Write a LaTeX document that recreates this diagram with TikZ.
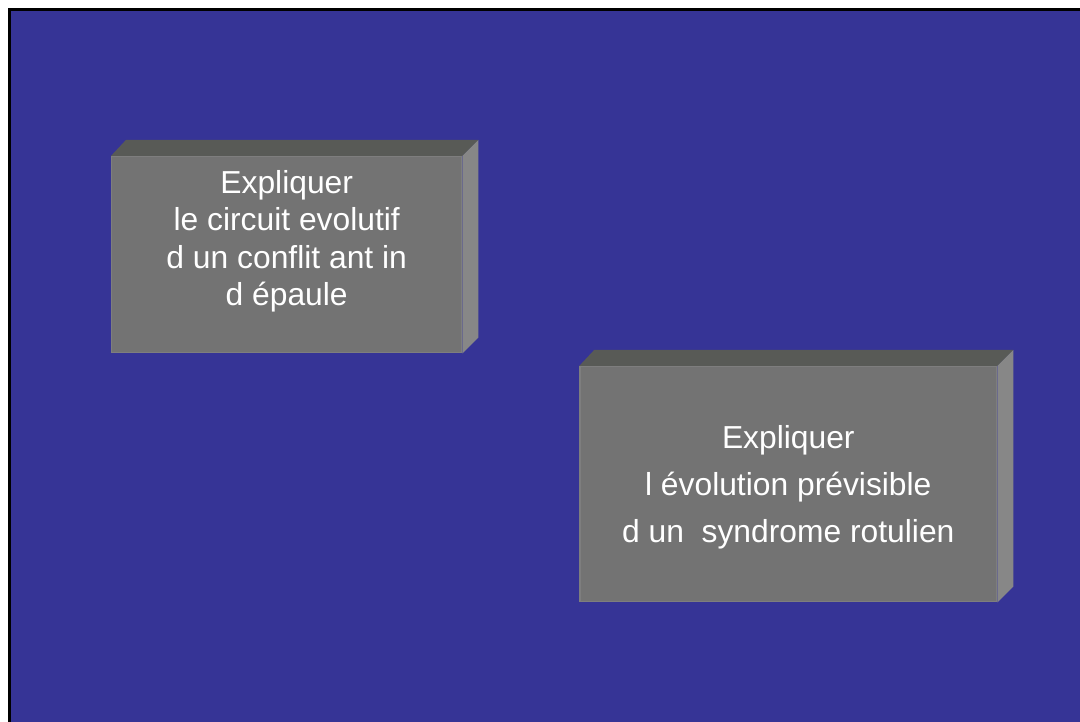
\documentclass[tikz,border=0pt]{standalone}
\usepackage{fontspec}
\setmainfont{Liberation Sans}
\usetikzlibrary{calc}
\definecolor{bgblue}{RGB}{54,52,150}
\definecolor{frontgray}{RGB}{115,115,115}
\definecolor{edgegray}{RGB}{126,126,126}
\definecolor{topgray}{RGB}{88,90,86}
\definecolor{sidegray}{RGB}{135,135,135}
\tikzset{
  frontface/.style={rectangle, fill=frontgray, draw=edgegray, line width=1.5pt, inner sep=0pt},
  topface/.style={fill=topgray},
  sideface/.style={fill=sidegray},
  boxtext/.style={text=white, align=center, inner sep=0pt, anchor=north}
}
\begin{document}
\begin{tikzpicture}[x=1pt,y=-1pt]
\useasboundingbox (0,0) rectangle (1080,722);
\fill[white] (0,0) rectangle (1080,722);
\fill[bgblue] (9.5,9.5) rectangle (1080,722);
\draw[black, line width=3pt] (9.5,722) -- (9.5,9.5) -- (1080,9.5);
% box 1
\node[frontface, minimum width=350pt, minimum height=196pt] (b1) at (286.7,254.7) {};
\fill[topface] (b1.north west) -- ++(15,-16) -- ($(b1.north east)+(16,-16)$) -- (b1.north east) -- cycle;
\fill[sideface] (b1.north east) -- ++(16,-16) -- ($(b1.south east)+(16,-16)$) -- (b1.south east) -- cycle;
\node[boxtext, font={\fontsize{31.8}{37.2}\selectfont}] (t1) at (286.7,170.5)
  {Expliquer\\le circuit evolutif\\d un conflit ant in\\d épaule};
% box 2
\node[frontface, minimum width=416.7pt, minimum height=235pt] (b2) at (788.3,484.2) {};
\fill[topface] (b2.north west) -- ++(15,-16) -- ($(b2.north east)+(16,-16)$) -- (b2.north east) -- cycle;
\fill[sideface] (b2.north east) -- ++(16,-16) -- ($(b2.south east)+(16,-16)$) -- (b2.south east) -- cycle;
\node[boxtext, font={\fontsize{31.8}{46.8}\selectfont}] (t2) at (788.3,425.2)
  {Expliquer\\l évolution prévisible\\d un\ \ syndrome rotulien};
\end{tikzpicture}
\end{document}
